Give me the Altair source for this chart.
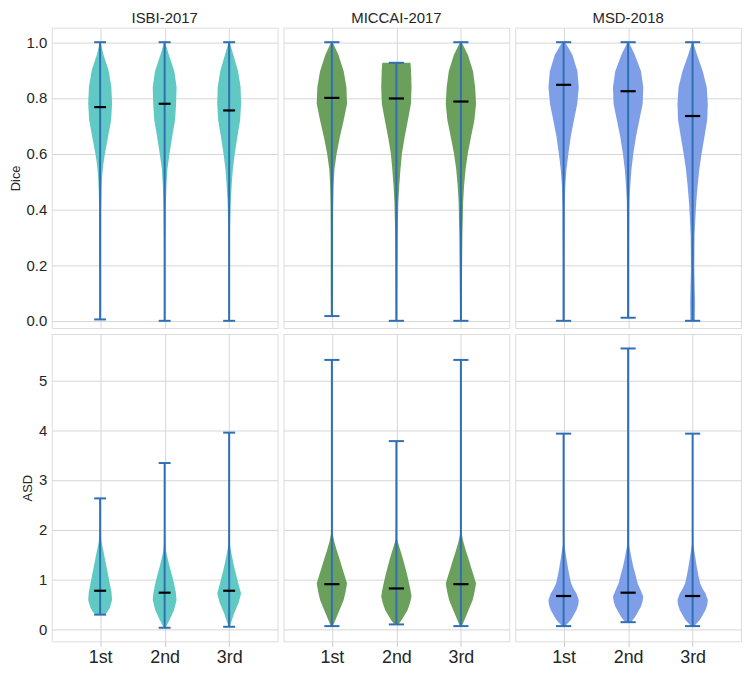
import altair as alt
import pandas as pd

DATASETS = ["ISBI-2017", "MICCAI-2017", "MSD-2018"]
RANKS = ["1st", "2nd", "3rd"]
METRICS = ["Dice", "ASD"]

# summary values [dataset][rank]
DICE_MIN = [[0.005, 0.0, 0.0], [0.017, 0.0, 0.0], [0.0, 0.011, 0.0]]
DICE_MAX = [[1.0, 1.0, 1.0], [1.0, 0.926, 1.0], [1.0, 1.0, 1.0]]
DICE_MEDIAN = [[0.767, 0.779, 0.755], [0.800, 0.798, 0.787], [0.847, 0.824, 0.735]]
ASD_MIN = [[0.296, 0.033, 0.053], [0.066, 0.100, 0.066], [0.066, 0.145, 0.066]]
ASD_MAX = [[2.63, 3.34, 3.95], [5.41, 3.78, 5.41], [3.93, 5.64, 3.93]]
ASD_MEDIAN = [[0.776, 0.737, 0.776], [0.908, 0.822, 0.908], [0.670, 0.737, 0.670]]

# violin density profiles (value, relative density) [dataset][rank]
DICE_Y = [
    [[0.005, 0.1, 0.2, 0.3, 0.4, 0.47, 0.52, 0.56, 0.60, 0.66, 0.72, 0.78, 0.84, 0.90, 0.955, 1.0],
     [0.0, 0.1, 0.2, 0.3, 0.4, 0.485, 0.544, 0.602, 0.661, 0.72, 0.779, 0.838, 0.896, 0.955, 1.0],
     [0.0, 0.1, 0.2, 0.31, 0.426, 0.485, 0.544, 0.602, 0.661, 0.72, 0.779, 0.838, 0.896, 0.955, 1.0]],
    [[0.017, 0.1, 0.2, 0.3, 0.4, 0.485, 0.544, 0.602, 0.661, 0.72, 0.779, 0.838, 0.896, 0.955, 1.0],
     [0.0, 0.07, 0.19, 0.31, 0.426, 0.485, 0.544, 0.602, 0.661, 0.72, 0.779, 0.838, 0.896, 0.926],
     [0.0, 0.07, 0.19, 0.31, 0.426, 0.485, 0.544, 0.602, 0.661, 0.72, 0.779, 0.838, 0.896, 0.955, 1.0]],
    [[0.0, 0.1, 0.2, 0.3, 0.4, 0.485, 0.544, 0.602, 0.661, 0.72, 0.779, 0.838, 0.896, 0.955, 1.0],
     [0.011, 0.1, 0.2, 0.31, 0.426, 0.485, 0.544, 0.602, 0.661, 0.72, 0.779, 0.838, 0.896, 0.955, 1.0],
     [0.0, 0.07, 0.19, 0.308, 0.367, 0.426, 0.485, 0.544, 0.602, 0.661, 0.72, 0.779, 0.838, 0.896, 0.955, 1.0]],
]
DICE_D = [
    [[0.04, 0.05, 0.05, 0.06, 0.08, 0.12, 0.17, 0.26, 0.40, 0.66, 0.92, 1.0, 0.94, 0.70, 0.28, 0.03],
     [0.04, 0.05, 0.05, 0.06, 0.09, 0.15, 0.23, 0.42, 0.63, 0.87, 0.96, 1.0, 0.81, 0.35, 0.04],
     [0.05, 0.05, 0.05, 0.06, 0.13, 0.21, 0.31, 0.48, 0.69, 0.92, 1.0, 0.96, 0.75, 0.35, 0.04]],
    [[0.06, 0.07, 0.07, 0.07, 0.08, 0.11, 0.17, 0.32, 0.53, 0.78, 1.0, 0.96, 0.78, 0.43, 0.05],
     [0.04, 0.045, 0.06, 0.08, 0.13, 0.19, 0.27, 0.37, 0.55, 0.76, 0.96, 1.0, 0.97, 0.93],
     [0.05, 0.06, 0.08, 0.10, 0.15, 0.21, 0.31, 0.46, 0.67, 0.89, 1.0, 0.94, 0.80, 0.46, 0.05]],
    [[0.05, 0.05, 0.05, 0.06, 0.07, 0.11, 0.19, 0.32, 0.47, 0.68, 0.90, 1.0, 0.91, 0.58, 0.10],
     [0.05, 0.05, 0.06, 0.065, 0.085, 0.14, 0.22, 0.35, 0.52, 0.74, 0.96, 1.0, 0.85, 0.44, 0.05],
     [0.15, 0.16, 0.11, 0.13, 0.18, 0.24, 0.33, 0.44, 0.60, 0.78, 0.96, 1.0, 0.93, 0.67, 0.29, 0.03]],
]
ASD_Y = [
    [[0.296, 0.33, 0.43, 0.59, 0.75, 0.92, 1.08, 1.25, 1.42, 1.58, 1.75, 1.9, 2.2, 2.63],
     [0.033, 0.07, 0.2, 0.39, 0.59, 0.75, 0.92, 1.08, 1.25, 1.42, 1.58, 1.75, 2.0, 2.5, 3.34],
     [0.053, 0.13, 0.33, 0.53, 0.72, 0.92, 1.08, 1.25, 1.42, 1.58, 1.71, 2.0, 3.0, 3.95]],
    [[0.066, 0.1, 0.26, 0.43, 0.59, 0.75, 0.92, 1.08, 1.25, 1.42, 1.58, 1.76, 1.94, 2.5, 4.0, 5.41],
     [0.1, 0.2, 0.39, 0.53, 0.66, 0.79, 0.92, 1.08, 1.25, 1.42, 1.58, 1.7, 1.81, 2.5, 3.78],
     [0.066, 0.1, 0.26, 0.43, 0.59, 0.75, 0.92, 1.08, 1.25, 1.42, 1.58, 1.76, 1.94, 2.5, 4.0, 5.41]],
    [[0.066, 0.1, 0.2, 0.39, 0.5, 0.59, 0.72, 0.82, 0.92, 1.08, 1.25, 1.42, 1.58, 1.71, 2.2, 3.0, 3.93],
     [0.145, 0.26, 0.46, 0.56, 0.66, 0.79, 0.92, 1.08, 1.25, 1.42, 1.58, 1.71, 2.3, 4.0, 5.64],
     [0.066, 0.1, 0.2, 0.39, 0.5, 0.59, 0.72, 0.82, 0.92, 1.08, 1.25, 1.42, 1.58, 1.71, 2.2, 3.0, 3.93]],
]
ASD_D = [
    [[0.35, 0.54, 0.81, 1.0, 0.95, 0.81, 0.68, 0.54, 0.40, 0.27, 0.12, 0.06, 0.04, 0.02],
     [0.08, 0.15, 0.43, 0.79, 1.0, 0.93, 0.79, 0.62, 0.43, 0.26, 0.11, 0.05, 0.03, 0.02, 0.02],
     [0.06, 0.15, 0.43, 0.79, 1.0, 0.77, 0.60, 0.43, 0.28, 0.15, 0.06, 0.03, 0.02, 0.02]],
    [[0.05, 0.11, 0.33, 0.56, 0.78, 0.90, 1.0, 0.84, 0.67, 0.50, 0.33, 0.16, 0.04, 0.02, 0.02, 0.02],
     [0.13, 0.37, 0.74, 0.90, 1.0, 0.93, 0.84, 0.72, 0.58, 0.43, 0.27, 0.15, 0.04, 0.02, 0.02],
     [0.05, 0.11, 0.33, 0.56, 0.78, 0.90, 1.0, 0.84, 0.67, 0.50, 0.33, 0.16, 0.04, 0.02, 0.02, 0.02]],
    [[0.10, 0.20, 0.50, 0.85, 0.97, 1.0, 0.85, 0.65, 0.50, 0.38, 0.28, 0.19, 0.11, 0.04, 0.02, 0.02, 0.02],
     [0.19, 0.48, 0.85, 0.95, 1.0, 0.82, 0.63, 0.50, 0.35, 0.23, 0.13, 0.05, 0.02, 0.02, 0.02],
     [0.10, 0.20, 0.50, 0.85, 0.97, 1.0, 0.85, 0.65, 0.50, 0.38, 0.28, 0.19, 0.11, 0.04, 0.02, 0.02, 0.02]],
]

# styling
FILL = ["#61c9c4", "#6aa05c", "#7e9fe8"]
VIOLIN_WIDTH = [0.37, 0.47, 0.47]
LINE = "#2f6fb6"
FONT = "Liberation Sans"
W = 227
H = {"Dice": 302, "ASD": 309}
DOMAIN = {"Dice": [-0.026, 1.052], "ASD": [-0.24, 5.93]}
YTICKS = {"Dice": [0, 0.2, 0.4, 0.6, 0.8, 1.0], "ASD": [0, 1, 2, 3, 4, 5]}
YFMT = {"Dice": ".1f", "ASD": "d"}

SUMMARY = {
    "Dice": (DICE_MIN, DICE_MAX, DICE_MEDIAN, DICE_Y, DICE_D),
    "ASD": (ASD_MIN, ASD_MAX, ASD_MEDIAN, ASD_Y, ASD_D),
}

label_expr = " : ".join(
    f"datum.value == {i + 1} ? '{r}'" for i, r in enumerate(RANKS[:-1])
) + f" : '{RANKS[-1]}'"


def panel(di, metric):
    mins, maxs, meds, ys, ds = SUMMARY[metric]
    half = VIOLIN_WIDTH[di] / 2
    cap = VIOLIN_WIDTH[di] / 4
    prof = []
    for ri in range(3):
        for y, d in zip(ys[di][ri], ds[di][ri]):
            prof.append({"pos": ri + 1, "val": y, "xl": ri + 1 - d * half, "xr": ri + 1 + d * half})
    prof = pd.DataFrame(prof)
    summ = pd.DataFrame({
        "pos": [1, 2, 3],
        "mn": mins[di],
        "mx": maxs[di],
        "med": meds[di],
        "cl": [p - cap for p in (1, 2, 3)],
        "cr": [p + cap for p in (1, 2, 3)],
    })

    first_col = di == 0
    bottom = metric == "ASD"

    xscale = alt.Scale(domain=[0.25, 3.75], nice=False, zero=False)
    yscale = alt.Scale(domain=DOMAIN[metric], nice=False, zero=False)

    xaxis = alt.Axis(
        values=[1, 2, 3], labelExpr=label_expr, labels=bottom, ticks=bottom,
        tickSize=5, tickColor="#c8c8c8", labelFontSize=18, labelColor="#262626",
        labelFont=FONT, labelPadding=2, grid=True, gridColor="#d6d6d6", domain=False,
        title=None,
    )
    yaxis = alt.Axis(
        values=YTICKS[metric], format=YFMT[metric], labels=first_col, ticks=False,
        labelFontSize=15, labelColor="#262626", labelFont=FONT, labelPadding=5,
        grid=True, gridColor="#d6d6d6", domain=False,
        title=metric if first_col else None, titleFontSize=13, titleFont=FONT,
        titleFontWeight="normal", titleColor="#262626", titlePadding=4,
    )

    area = alt.Chart(prof).mark_area(orient="horizontal", color=FILL[di], opacity=1).encode(
        y=alt.Y("val:Q", scale=yscale, axis=yaxis),
        x=alt.X("xl:Q", scale=xscale, axis=xaxis, stack=None),
        x2="xr:Q",
        detail="pos:N",
    )

    vline = alt.Chart(summ).mark_rule(color=LINE, strokeWidth=2).encode(
        x=alt.X("pos:Q", scale=xscale, axis=xaxis),
        y=alt.Y("mn:Q", scale=yscale, axis=yaxis),
        y2="mx:Q",
    )
    cap_lo = alt.Chart(summ).mark_rule(color=LINE, strokeWidth=2).encode(
        x=alt.X("cl:Q", scale=xscale, axis=xaxis), x2="cr:Q",
        y=alt.Y("mn:Q", scale=yscale, axis=yaxis),
    )
    cap_hi = alt.Chart(summ).mark_rule(color=LINE, strokeWidth=2).encode(
        x=alt.X("cl:Q", scale=xscale, axis=xaxis), x2="cr:Q",
        y=alt.Y("mx:Q", scale=yscale, axis=yaxis),
    )
    med = alt.Chart(summ).mark_rule(color="black", strokeWidth=2.2).encode(
        x=alt.X("cl:Q", scale=xscale, axis=xaxis), x2="cr:Q",
        y=alt.Y("med:Q", scale=yscale, axis=yaxis),
    )

    props = dict(width=W, height=H[metric])
    if metric == "Dice":
        props["title"] = alt.TitleParams(
            DATASETS[di], fontSize=15, font=FONT, fontWeight="normal",
            color="#262626", offset=2,
        )
    return alt.layer(area, vline, cap_lo, cap_hi, med).properties(**props)


panels = [panel(di, m) for m in METRICS for di in range(3)]

chart = alt.concat(
    *panels, columns=3, spacing=6, bounds="flush",
    padding={"left": 0, "top": 0, "right": 0, "bottom": 0},
).configure_view(
    stroke="#c8c8c8", strokeWidth=1.3
).configure(background="white")

chart.save("out.html", embed_options={"renderer": "svg", "actions": False})
